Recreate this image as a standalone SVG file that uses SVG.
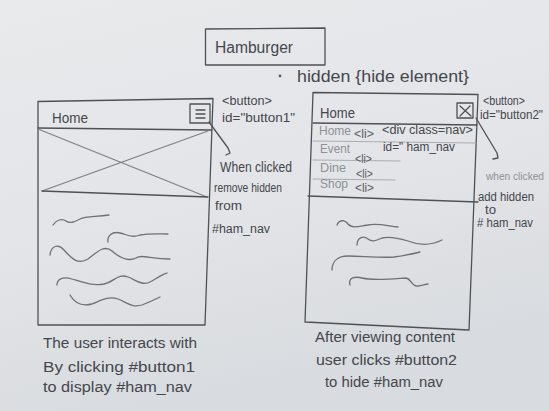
<svg xmlns="http://www.w3.org/2000/svg" width="549" height="411" viewBox="0 0 549 411">
  <defs>
    <linearGradient id="paper" x1="0" y1="0" x2="0.3" y2="1">
      <stop offset="0" stop-color="#e9eaec"/>
      <stop offset="0.6" stop-color="#e2e4e7"/>
      <stop offset="1" stop-color="#d8dbdf"/>
    </linearGradient>
    <style>
      .pen { fill: none; stroke: #4e5156; stroke-width: 1.3; stroke-linecap: round; stroke-linejoin: round; }
      .soft { fill: none; stroke: #7c7f84; stroke-width: 1.1; stroke-linecap: round; stroke-linejoin: round; }
      .faint { fill: none; stroke: #a3a6ab; stroke-width: 0.9; stroke-linecap: round; }
      .squig { fill: none; stroke: #6e7176; stroke-width: 1.3; stroke-linecap: round; stroke-linejoin: round; }
      text { font-family: "Liberation Sans", Arial, sans-serif; fill: #44474c; }
      .t10 { font-size: 10.5px; }
      .t12 { font-size: 12px; }
      .t13 { font-size: 13px; }
      .t14 { font-size: 14px; }
      .t16 { font-size: 16px; }
      .light { fill: #8e9196; }
      .mid { fill: #5a5d62; }
    </style>
  </defs>

  <!-- paper -->
  <rect x="0" y="0" width="549" height="411" fill="url(#paper)"/>

  <!-- title box -->
  <g id="title">
    <path class="pen" d="M205.5,29 L325,28 L325,65 L205.5,65 Z"/>
    <text class="t16" x="215" y="53" textLength="78" lengthAdjust="spacingAndGlyphs">Hamburger</text>
  </g>

  <g id="hidden-note">
    <circle cx="280" cy="76" r="1.4" fill="#5a5d62"/>
    <text class="t16" x="297" y="82" textLength="172" lengthAdjust="spacingAndGlyphs">hidden {hide element}</text>
  </g>

  <!-- left screen: menu closed -->
  <g id="screen-closed">
    <path class="pen" d="M38,101.5 L213,98.5 L205,325 L38,325 Z"/>
    <path class="pen" d="M38,128 L212,130"/>
    <text class="t14" x="52" y="123" textLength="36" lengthAdjust="spacingAndGlyphs">Home</text>
    <g id="button1">
      <path class="pen" d="M190,104 L210,104 L210,123 L190,123 Z"/>
      <path class="pen" d="M196,110 L205,110 M196,114 L205,114 M196,118 L205,118"/>
    </g>
    <!-- image placeholder -->
    <path class="soft" d="M38,129 L207,197 M42,191 L208,131"/>
    <path class="pen" d="M42,191 L208,197"/>
    <!-- text lines -->
    <path class="squig" d="M53,225 C56,220 62,218 66,221 C70,224 74,222 80,219 C86,216 95,217 109,215"/>
    <path class="squig" d="M108,242 C107,236 112,231 120,233 C128,235 132,238 140,235 C150,233 160,234 168,234"/>
    <path class="squig" d="M50,255 C51,246 58,243 64,250 C72,259 78,265 88,259 C96,253 104,244 112,251 C120,258 128,262 136,258 C142,254 150,259 170,259"/>
    <path class="squig" d="M57,285 C57,279 63,276 72,279 C82,282 92,286 104,284 C114,282 118,273 128,277 C136,280 142,286 150,282 C156,279 160,275 167,273"/>
    <path class="squig" d="M70,295 C74,302 80,307 92,304 C102,300 108,296 118,299 C126,302 132,308 142,305 C150,302 156,299 160,297"/>
  </g>

  <!-- right screen: menu open -->
  <g id="screen-open">
    <path class="pen" d="M313,92.5 L478,94.5 L469,330 L305,322 Z"/>
    <path class="pen" d="M313,123 L477,125"/>
    <text class="t14" x="320" y="118" textLength="35" lengthAdjust="spacingAndGlyphs">Home</text>
    <g id="button2">
      <path class="pen" d="M457,103 L473,103 L473,118 L457,118 Z"/>
      <path class="pen" d="M460,106 L471,116 M470,106 L460,116"/>
    </g>
    <g id="ham-nav">
      <path class="faint" d="M313,141 L476,143 M313,160 L400,161 M313,179 L395,180"/>
      <path class="pen" d="M308,196 L478,202"/>
      <text class="t12 light" x="319" y="135" textLength="32" lengthAdjust="spacingAndGlyphs">Home</text>
      <text class="t12 mid" x="354" y="138" textLength="20" lengthAdjust="spacingAndGlyphs">&lt;li&gt;</text>
      <text class="t13 light" x="320" y="153" textLength="30" lengthAdjust="spacingAndGlyphs">Event</text>
      <text class="t12 mid" x="355" y="163" textLength="17" lengthAdjust="spacingAndGlyphs">&lt;li&gt;</text>
      <text class="t12 light" x="320" y="172" textLength="26" lengthAdjust="spacingAndGlyphs">Dine</text>
      <text class="t12 mid" x="356" y="178" textLength="17" lengthAdjust="spacingAndGlyphs">&lt;li&gt;</text>
      <text class="t12 light" x="320" y="188" textLength="28" lengthAdjust="spacingAndGlyphs">Shop</text>
      <text class="t12 mid" x="355" y="192" textLength="19" lengthAdjust="spacingAndGlyphs">&lt;li&gt;</text>
      <text class="t12" x="382" y="134" textLength="91" lengthAdjust="spacingAndGlyphs">&lt;div class=nav&gt;</text>
      <text class="t12" x="383" y="151" textLength="72" lengthAdjust="spacingAndGlyphs">id=" ham_nav</text>
    </g>
    <!-- text lines -->
    <path class="squig" d="M337,225 C339,220 344,219 348,224 C352,229 360,226 368,225 C378,223 388,226 398,227"/>
    <path class="squig" d="M357,245 C357,238 363,235 368,239 C373,243 377,240 382,238 C390,236 398,238 408,241 C418,245 430,246 442,240"/>
    <path class="squig" d="M332,270 C332,261 338,256 348,256 C362,256 378,258 394,257 C404,256 412,254 420,252"/>
    <path class="squig" d="M350,285 C348,278 354,276 362,278 C374,281 392,279 406,278 C412,279 411,287 418,286 C422,286 425,284 428,284"/>
  </g>

  <!-- click arrows from the buttons to their notes -->
  <g id="connectors">
    <path class="pen" d="M209,122 L228,148 L230,153 L226,155"/>
    <path class="pen" d="M476,118 L497,153 L498,158 L493,159"/>
  </g>

  <!-- notes beside the closed screen -->
  <g id="notes-button1">
    <text class="t12" x="222" y="105" textLength="50" lengthAdjust="spacingAndGlyphs">&lt;button&gt;</text>
    <text class="t13" x="222" y="122" textLength="73" lengthAdjust="spacingAndGlyphs">id="button1"</text>
    <text class="t14" x="220" y="172" textLength="72" lengthAdjust="spacingAndGlyphs">When clicked</text>
    <text class="t12" x="214" y="192" textLength="68" lengthAdjust="spacingAndGlyphs">remove hidden</text>
    <text class="t12" x="215" y="210" textLength="27" lengthAdjust="spacingAndGlyphs">from</text>
    <text class="t12" x="212" y="233" textLength="58" lengthAdjust="spacingAndGlyphs">#ham_nav</text>
  </g>

  <!-- notes beside the open screen -->
  <g id="notes-button2">
    <text class="t12" x="483" y="105" textLength="42" lengthAdjust="spacingAndGlyphs">&lt;button&gt;</text>
    <text class="t12" x="480" y="119" textLength="63" lengthAdjust="spacingAndGlyphs">id="button2"</text>
    <text class="t10 light" x="486" y="180" textLength="58" lengthAdjust="spacingAndGlyphs">when clicked</text>
    <text class="t12" x="478" y="201" textLength="56" lengthAdjust="spacingAndGlyphs">add hidden</text>
    <text class="t12" x="485" y="214" textLength="11" lengthAdjust="spacingAndGlyphs">to</text>
    <text class="t12" x="477" y="227" textLength="56" lengthAdjust="spacingAndGlyphs"># ham_nav</text>
  </g>

  <!-- captions -->
  <g id="caption-left">
    <text class="t14" x="43" y="348" textLength="154" lengthAdjust="spacingAndGlyphs">The user interacts with</text>
    <text class="t14" x="43" y="372" textLength="152" lengthAdjust="spacingAndGlyphs">By clicking #button1</text>
    <text class="t14" x="43" y="392" textLength="149" lengthAdjust="spacingAndGlyphs">to display #ham_nav</text>
  </g>
  <g id="caption-right">
    <text class="t14" x="315" y="342" textLength="140" lengthAdjust="spacingAndGlyphs">After viewing content</text>
    <text class="t14" x="316" y="365" textLength="141" lengthAdjust="spacingAndGlyphs">user clicks #button2</text>
    <text class="t14" x="325" y="387" textLength="118" lengthAdjust="spacingAndGlyphs">to hide #ham_nav</text>
  </g>
</svg>
